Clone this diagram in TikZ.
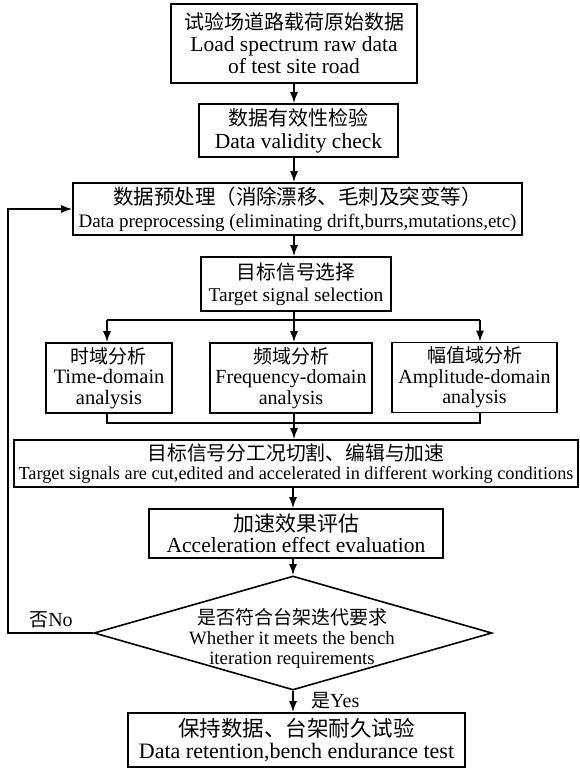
\documentclass[tikz,border=0pt]{standalone}
\usepackage{fontspec}
\setmainfont{Liberation Serif}
\newfontfamily\cjk{Noto Sans CJK SC}
\usetikzlibrary{arrows.meta,shapes.geometric}
\newcommand{\zh}[2]{{\cjk\fontsize{#1}{#1}\selectfont #2}}
\newcommand{\lt}[2]{{\fontsize{#1}{#1}\selectfont #2}}
\tikzset{
  box/.style={draw, line width=1.6pt, inner sep=0pt, align=center},
  lsp/.style={font=\fontsize{20}{#1}\selectfont},
  conn/.style={line width=1.6pt},
  arr/.style={conn, -{Latex[length=11pt,width=8pt]}},
  lbl/.style={inner sep=0pt}
}
\begin{document}
\begin{tikzpicture}[x=1pt,y=-1pt]
\useasboundingbox (0,0) rectangle (580,769);
\coordinate (sp) at (294,0);
\coordinate (fb) at (8,0);

\node[box, lsp=22, minimum width=246pt, minimum height=79pt] (raw) at (294,43.5)
  {\zh{20}{试验场道路载荷原始数据}\\\lt{21.5}{Load spectrum raw data}\\\lt{21.5}{of test site road}};
\node[box, lsp=23, minimum width=199pt, minimum height=53pt] (valid) at (298.5,130.5)
  {\zh{20}{数据有效性检验}\\\lt{21.5}{Data validity check}};
\node[box, lsp=23, minimum width=449pt, minimum height=52pt] (pre) at (297.5,209)
  {\zh{20.5}{数据预处理（消除漂移、毛刺及突变等）}\\\lt{19}{Data preprocessing (eliminating drift,burrs,mutations,etc)}};
\node[box, lsp=22, minimum width=190pt, minimum height=54pt] (target) at (296,284)
  {\zh{19.7}{目标信号选择}\\\lt{19.5}{Target signal selection}};
\node[box, lsp=20.5, minimum width=126pt, minimum height=70pt] (time) at (109,378)
  {\zh{19}{时域分析}\\\lt{20.5}{Time-domain}\\\lt{20.5}{analysis}};
\node[box, lsp=20.5, minimum width=162pt, minimum height=70pt] (freq) at (291,378)
  {\zh{19}{频域分析}\\\lt{20}{Frequency-domain}\\\lt{20}{analysis}};
\node[box, lsp=20.5, minimum width=165pt, minimum height=70pt] (amp) at (474.5,377.5)
  {\zh{19}{幅值域分析}\\\lt{20}{Amplitude-domain}\\\lt{20}{analysis}};
\node[box, lsp=19.5, minimum width=564pt, minimum height=47pt] (cut) at (296,463.5)
  {\zh{19.8}{目标信号分工况切割、编辑与加速}\\\lt{18.3}{Target signals are cut,edited and accelerated in different working conditions}};
\node[box, lsp=21, minimum width=294pt, minimum height=49pt] (accel) at (296,533.5)
  {\zh{21}{加速效果评估}\\\lt{21.5}{Acceleration effect evaluation}};
\node[draw, diamond, line width=1.6pt, inner sep=0pt, minimum width=398pt, minimum height=114pt] (dec) at (293,633) {};
\node[lbl, lsp=20, align=center] (dectxt) at (292,638)
  {\zh{19}{是否符合台架迭代要求}\\\lt{18.8}{Whether it meets the bench}\\\lt{18.8}{iteration requirements}};
\node[box, lsp=22, minimum width=337pt, minimum height=54pt] (final) at (296.5,740)
  {\zh{21.5}{保持数据、台架耐久试验}\\\lt{22}{Data retention,bench endurance test}};

\node[lbl] (no) at (51,620) {\zh{19}{否}\lt{20}{No}};
\node[lbl, anchor=west] (yes) at (311,701) {\zh{19}{是}\lt{20}{Yes}};

\coordinate (bl) at (107,320);
\coordinate (brr) at (480,320);
\coordinate (ml) at (107,423);
\coordinate (mr) at (480,423);

\draw[arr] (raw.south -| sp) -- (valid.north -| sp);
\draw[arr] (valid.south -| sp) -- (pre.north -| sp);
\draw[arr] (pre.south -| sp) -- (target.north -| sp);
\draw[arr] (target.south -| sp) -- (freq.north -| sp);
\draw[conn] (bl) -- (brr);
\draw[arr] (bl) -- (bl |- time.north);
\draw[arr] (brr) -- (brr |- amp.north);
\draw[conn] (ml |- time.south) -- (ml) -- (mr) -- (mr |- amp.south);
\draw[arr] (freq.south -| sp) -- (cut.north -| sp);
\draw[arr] (cut.south -| dec.north) -- (accel.north -| dec.north);
\draw[arr] (accel.south -| dec.north) -- (dec.north);
\draw[arr] (dec.south) -- (dec.south |- final.north);
\draw[arr] (dec.west) -- (dec.west -| fb) |- (pre.west);
\end{tikzpicture}
\end{document}
